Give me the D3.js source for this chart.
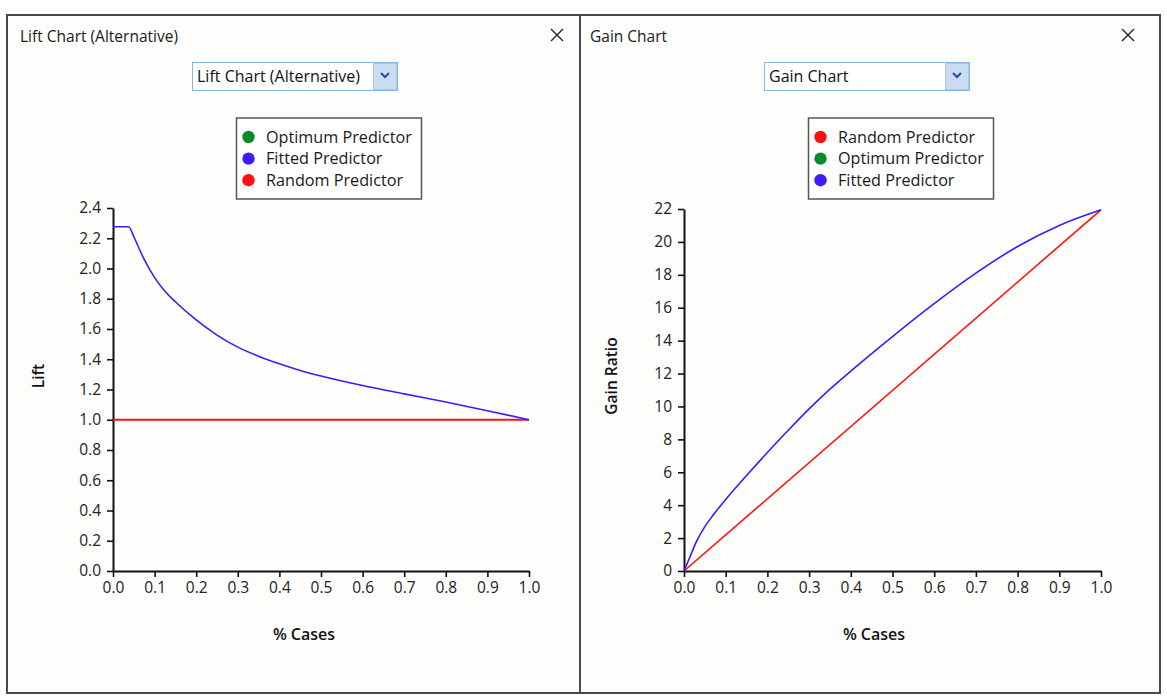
<!DOCTYPE html>
<html>
<head>
<meta charset="utf-8">
<script src="https://cdn.jsdelivr.net/npm/d3@7"></script>
<style>
  body { margin: 0; background: #fff; }
  svg { display: block; font-family: "Open Sans", "Noto Sans", sans-serif; }
</style>
</head>
<body>
<div id="chart"></div>
<script>
// Chart values
const xTicks = [0, 0.1, 0.2, 0.3, 0.4, 0.5, 0.6, 0.7, 0.8, 0.9, 1.0];
const liftTicks = [0, 0.2, 0.4, 0.6, 0.8, 1.0, 1.2, 1.4, 1.6, 1.8, 2.0, 2.2, 2.4];
const gainTicks = [0, 2, 4, 6, 8, 10, 12, 14, 16, 18, 20, 22];

// Lift chart (alternative)
const liftX = [0, 0.0375, 0.05, 0.075, 0.1, 0.125, 0.15, 0.2, 0.25, 0.3, 0.35, 0.4, 0.45, 0.5, 0.6, 0.7, 0.8, 0.9, 1.0];
const liftFitted = [2.276, 2.276, 2.21, 2.06, 1.94, 1.85, 1.78, 1.66, 1.56, 1.48, 1.42, 1.37, 1.326, 1.289, 1.226, 1.171, 1.117, 1.06, 1.0];
const liftRandomX = [0, 1];
const liftRandom = [1, 1];

// Gain chart
const gainX = [0, 0.015, 0.03, 0.05, 0.07, 0.1, 0.15, 0.2, 0.25, 0.3, 0.35, 0.4, 0.5, 0.6, 0.7, 0.8, 0.9, 1.0];
const gainFitted = [0, 0.9, 1.8, 2.7, 3.4, 4.35, 5.8, 7.2, 8.55, 9.85, 11.05, 12.15, 14.25, 16.25, 18.1, 19.72, 21.0, 21.95];
const gainRandomX = [0, 1];
const gainRandom = [0, 21.95];

const liftLegend = ['Optimum Predictor', 'Fitted Predictor', 'Random Predictor'];
const gainLegend = ['Random Predictor', 'Optimum Predictor', 'Fitted Predictor'];

const colors = {
    'Optimum Predictor': '#0b8a2c',
    'Fitted Predictor': '#3a1cff',
    'Random Predictor': '#ff1010'
};

const width = 1167;
const height = 699;

const svg = d3.select('#chart')
    .append('svg')
    .attr('width', width)
    .attr('height', height);

// Window frame
svg.append('rect')
    .attr('x', 7).attr('y', 15)
    .attr('width', 1153).attr('height', 678)
    .attr('fill', '#fdfdfb')
    .attr('stroke', '#4a4a4a')
    .attr('stroke-width', 2);

svg.append('line')
    .attr('x1', 580).attr('x2', 580)
    .attr('y1', 15).attr('y2', 693)
    .attr('stroke', '#4a4a4a')
    .attr('stroke-width', 2);

const panels = [
    {
        title: 'Lift Chart (Alternative)',
        titleX: 20,
        closeX: 557,
        drop: {x: 192, w: 205},
        legendBox: {x: 236, w: 185},
        legend: liftLegend,
        plot: {left: 113, right: 529, top: 208, bottom: 571},
        yDomain: [0, 2.4],
        yTicks: liftTicks,
        yFormat: d3.format('.1f'),
        yLabel: 'Lift',
        yLabelX: 39,
        xLabelX: 304,
        series: [
            {name: 'Random Predictor', xs: liftRandomX, ys: liftRandom, w: 2},
            {name: 'Fitted Predictor', xs: liftX, ys: liftFitted, w: 1.6}
        ]
    },
    {
        title: 'Gain Chart',
        titleX: 590,
        closeX: 1128,
        drop: {x: 764, w: 205},
        legendBox: {x: 808, w: 185},
        legend: gainLegend,
        plot: {left: 684, right: 1101, top: 209, bottom: 571},
        yDomain: [0, 22],
        yTicks: gainTicks,
        yFormat: d3.format('d'),
        yLabel: 'Gain Ratio',
        yLabelX: 612,
        xLabelX: 874,
        series: [
            {name: 'Random Predictor', xs: gainRandomX, ys: gainRandom, w: 1.6},
            {name: 'Fitted Predictor', xs: gainX, ys: gainFitted, w: 1.6}
        ]
    }
];

panels.forEach(p => {
    const g = svg.append('g');

    // Title bar text and close cross
    g.append('text')
        .attr('x', p.titleX).attr('y', 42)
        .attr('font-size', 15.5)
        .attr('fill', '#1a1a1a')
        .text(p.title);

    g.append('path')
        .attr('d', `M${p.closeX - 6},29L${p.closeX + 6},41M${p.closeX + 6},29L${p.closeX - 6},41`)
        .attr('stroke', '#222')
        .attr('stroke-width', 1.4)
        .attr('fill', 'none');

    // Dropdown
    const dd = g.append('g');
    dd.append('rect')
        .attr('x', p.drop.x + 0.5).attr('y', 62.5)
        .attr('width', p.drop.w).attr('height', 28)
        .attr('fill', '#fff')
        .attr('stroke', '#86b6e6');
    dd.append('rect')
        .attr('x', p.drop.x + p.drop.w - 23.5).attr('y', 63.5)
        .attr('width', 23).attr('height', 26)
        .attr('fill', '#c9dcf2')
        .attr('stroke', '#a9c7e8');
    const cx = p.drop.x + p.drop.w - 12;
    dd.append('path')
        .attr('d', `M${cx - 4},73L${cx},77L${cx + 4},73`)
        .attr('stroke', '#2c4f8f')
        .attr('stroke-width', 2)
        .attr('fill', 'none');
    dd.append('text')
        .attr('x', p.drop.x + 5).attr('y', 82)
        .attr('font-size', 16)
        .attr('fill', '#111')
        .text(p.title);

    // Legend
    const lg = g.append('g');
    lg.append('rect')
        .attr('x', p.legendBox.x + 0.5).attr('y', 118)
        .attr('width', p.legendBox.w).attr('height', 81)
        .attr('fill', '#fff')
        .attr('stroke', '#555')
        .attr('stroke-width', 1.5);
    p.legend.forEach((name, i) => {
        const cy = 137 + i * 21.6;
        lg.append('circle')
            .attr('cx', p.legendBox.x + 12.5).attr('cy', cy)
            .attr('r', 6.2)
            .attr('fill', colors[name]);
        lg.append('text')
            .attr('x', p.legendBox.x + 30).attr('y', cy + 5.5)
            .attr('font-size', 16.2)
            .attr('fill', '#1a1a1a')
            .text(name);
    });

    // Scales and axes
    const x = d3.scaleLinear().domain([0, 1]).range([p.plot.left, p.plot.right]);
    const y = d3.scaleLinear().domain(p.yDomain).range([p.plot.bottom, p.plot.top]);

    const xAxis = g.append('g')
        .attr('transform', `translate(0,${p.plot.bottom})`)
        .call(d3.axisBottom(x).tickValues(xTicks).tickFormat(d3.format('.1f')).tickSize(6).tickSizeOuter(0).tickPadding(5));

    const yAxis = g.append('g')
        .attr('transform', `translate(${p.plot.left},0)`)
        .call(d3.axisLeft(y).tickValues(p.yTicks).tickFormat(p.yFormat).tickSize(6).tickSizeOuter(0).tickPadding(6));

    [xAxis, yAxis].forEach(a => {
        a.select('.domain').attr('stroke', '#111').attr('stroke-width', 2);
        a.selectAll('.tick line').attr('stroke', '#111').attr('stroke-width', 1.6);
        a.selectAll('.tick text')
            .attr('font-size', 15.5)
            .attr('fill', '#222')
            .attr('font-family', '"Open Sans", sans-serif');
    });

    // Axis titles
    g.append('text')
        .attr('x', p.xLabelX).attr('y', 640)
        .attr('text-anchor', 'middle')
        .attr('font-size', 16)
        .attr('font-weight', 600)
        .attr('fill', '#111')
        .text('% Cases');

    g.append('text')
        .attr('transform', `translate(${p.yLabelX + 5},376) rotate(-90)`)
        .attr('text-anchor', 'middle')
        .attr('font-size', 15.5)
        .attr('font-weight', 600)
        .attr('fill', '#111')
        .text(p.yLabel);

    // Series
    const line = d3.line()
        .x(d => x(d[0]))
        .y(d => y(d[1]))
        .curve(d3.curveMonotoneX);

    p.series.forEach(s => {
        g.append('path')
            .datum(s.xs.map((v, i) => [v, s.ys[i]]))
            .attr('d', line)
            .attr('fill', 'none')
            .attr('stroke', colors[s.name])
            .attr('stroke-width', s.w);
    });
});
</script>
</body>
</html>
